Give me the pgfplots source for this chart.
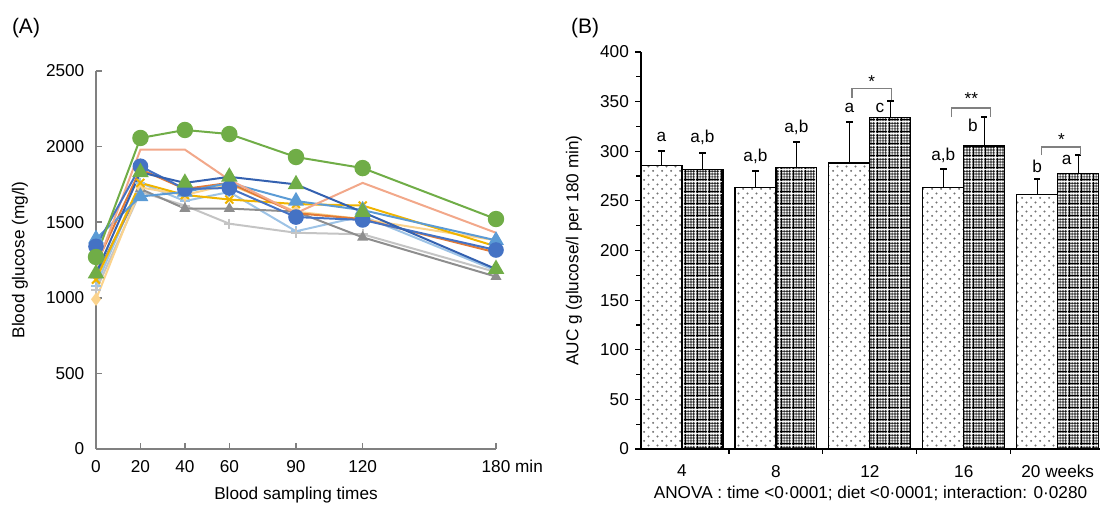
\documentclass[border=0pt]{standalone}
\usepackage{fontspec}
\setmainfont{Liberation Sans}
\usepackage{pgfplots}
\usepackage{pgfplotstable}
\pgfplotsset{compat=1.18}
\usetikzlibrary{patterns}

\definecolor{cgreen}{HTML}{70AD47}
\definecolor{csalmon}{HTML}{F2A88A}
\definecolor{cblue}{HTML}{4472C4}
\definecolor{cdblue}{HTML}{3461B0}
\definecolor{clblue}{HTML}{5B9BD5}
\definecolor{corange}{HTML}{E37B36}
\definecolor{cgold}{HTML}{F0B400}
\definecolor{cpeach}{HTML}{FBD38C}
\definecolor{cgray}{HTML}{8E8E8E}
\definecolor{clgray}{HTML}{C4C4C4}
\definecolor{cpblue}{HTML}{9DC3E6}

% stippled fill of the first diet
\pgfdeclarepatternformonly{stipple}{\pgfpointorigin}{\pgfpoint{4.4pt}{4.4pt}}{\pgfpoint{4.4pt}{4.4pt}}{%
  \pgfpathcircle{\pgfpoint{1.1pt}{1.1pt}}{0.55pt}%
  \pgfpathcircle{\pgfpoint{3.3pt}{3.3pt}}{0.55pt}%
  \pgfusepath{fill}}
% dense grid of the second diet
\pgfdeclarepatternformonly{densegrid}{\pgfpointorigin}{\pgfpoint{6pt}{6pt}}{\pgfpoint{6pt}{6pt}}{%
  \pgfsetlinewidth{0.7pt}%
  \pgfpathmoveto{\pgfpoint{0.75pt}{0pt}}\pgfpathlineto{\pgfpoint{0.75pt}{6pt}}%
  \pgfpathmoveto{\pgfpoint{0pt}{0.75pt}}\pgfpathlineto{\pgfpoint{6pt}{0.75pt}}%
  \pgfusepath{stroke}%
  \pgfsetlinewidth{0.35pt}%
  \pgfpathmoveto{\pgfpoint{2.25pt}{0pt}}\pgfpathlineto{\pgfpoint{2.25pt}{6pt}}%
  \pgfpathmoveto{\pgfpoint{3.75pt}{0pt}}\pgfpathlineto{\pgfpoint{3.75pt}{6pt}}%
  \pgfpathmoveto{\pgfpoint{5.25pt}{0pt}}\pgfpathlineto{\pgfpoint{5.25pt}{6pt}}%
  \pgfpathmoveto{\pgfpoint{0pt}{2.25pt}}\pgfpathlineto{\pgfpoint{6pt}{2.25pt}}%
  \pgfpathmoveto{\pgfpoint{0pt}{3.75pt}}\pgfpathlineto{\pgfpoint{6pt}{3.75pt}}%
  \pgfpathmoveto{\pgfpoint{0pt}{5.25pt}}\pgfpathlineto{\pgfpoint{6pt}{5.25pt}}%
  \pgfusepath{stroke}}

% AUC per diet: week index, mean, upper error
\pgfplotstableread{
x   y     e
0   285.4 15.1
1   263.3 16.5
2   288.2 41.6
3   263.7 18.1
4   256.6 15.1
}\dietA
\pgfplotstableread{
x   y     e
0   281.8 16.7
1   283.4 25.9
2   334.2 16.1
3   305.3 28.9
4   277.4 18.8
}\dietB
\pgfplotstableread{
x      y     label
-0.218 314   a
0.218  314   a,b
0.782  294.5 a,b
1.218  323.7 a,b
1.782  343.3 a
2.106  343.3 c
2.782  296   a,b
3.096  326   b
3.782  284.5 b
4.096  291   a
2.02   370   *
3.08   353   **
4.04   312   *
}\letters

\begin{document}
\fontsize{8.6}{10}\selectfont
\begin{tikzpicture}
\useasboundingbox (0,0) rectangle (552pt,252pt);
\node[font=\fontsize{10.5}{12}\selectfont] at (13pt,238pt) {(A)};
\node[font=\fontsize{10.5}{12}\selectfont] at (292.5pt,238pt) {(B)};

\begin{axis}[
  at={(48pt,27.5pt)}, anchor=south west,
  scale only axis, width=200pt, height=189pt,
  xmin=0, xmax=180, ymin=0, ymax=2500,
  axis x line*=bottom, axis y line*=left,
  axis line style={draw=gray, line width=0.75pt},
  tick align=inside, major tick length=3pt,
  tick style={gray, line width=0.75pt},
  xtick={0,20,40,60,90,120,180},
  xticklabels={0,20,40,60,90,120,180\rlap{ min}},
  ytick={0,500,...,2500},
  /pgf/number format/assume math mode=true,
  /pgf/number format/1000 sep={},
  xticklabel style={yshift=-2.5pt},
  yticklabel style={xshift=-2.8pt},
  xlabel={Blood sampling times},
  ylabel={Blood glucose (mg/l)},
  xlabel style={at={(axis description cs:0.5,-0.122)}, anchor=center},
  ylabel style={at={(axis description cs:-0.19,0.5)}, anchor=center},
  clip=false,
  every axis plot/.append style={line width=1pt},
]
\addplot[cpblue, mark=+, mark size=2.5pt] coordinates {(0,1080) (20,1760) (40,1640) (60,1700) (90,1440) (120,1540) (180,1180)};
\addplot[clgray, mark=+, mark size=2.5pt] coordinates {(0,1050) (20,1700) (40,1610) (60,1490) (90,1430) (120,1420) (180,1170)};
\addplot[cgray, mark=triangle*, mark size=2.2pt] coordinates {(0,1150) (20,1720) (40,1590) (60,1590) (90,1570) (120,1400) (180,1140)};
\addplot[cpeach, mark=diamond*, mark size=2.5pt] coordinates {(0,990) (20,1730) (40,1680) (60,1750) (90,1570) (120,1520) (180,1380)};
\addplot[cgold, mark=x, mark size=2.8pt] coordinates {(0,1120) (20,1760) (40,1680) (60,1650) (90,1620) (120,1610) (180,1340)};
\addplot[corange] coordinates {(0,1220) (20,1850) (40,1720) (60,1760) (90,1560) (120,1520) (180,1300)};
\addplot[clblue, mark=triangle*, mark size=3.6pt] coordinates {(0,1390) (20,1670) (40,1700) (60,1760) (90,1640) (120,1580) (180,1380)};
\addplot[csalmon] coordinates {(0,1200) (20,1980) (40,1980) (60,1780) (90,1560) (120,1760) (180,1430)};
\addplot[cblue, mark=*, mark size=3.4pt] coordinates {(0,1340) (20,1870) (40,1720) (60,1726) (90,1534) (120,1515) (180,1316)};
\addplot[cdblue, mark=triangle*, mark size=3.8pt, mark options={fill=cgreen, draw=cgreen}] coordinates {(0,1160) (20,1830) (40,1760) (60,1800) (90,1750) (120,1567) (180,1190)};
\addplot[cgreen, mark=*, mark size=3.6pt] coordinates {(0,1270) (20,2057) (40,2110) (60,2083) (90,1931) (120,1858) (180,1521)};
\end{axis}

\begin{axis}[
  at={(320.5pt,27.5pt)}, anchor=south west,
  scale only axis, width=229.5pt, height=198.5pt,
  xmin=-0.436, xmax=4.45, ymin=0, ymax=400,
  axis x line*=bottom, axis y line*=left,
  axis line style={line width=0.6pt},
  tick align=outside, major tick length=3pt, minor tick length=2.5pt,
  tick style={black, line width=0.6pt},
  xtick={0,...,4}, xticklabels={4,8,12,16,20 weeks},
  minor xtick={0.5,1.5,2.5,3.5},
  xtick style={draw=none}, minor x tick style={draw=black, line width=0.6pt},
  ytick={0,50,...,400}, minor y tick num=1,
  /pgf/number format/assume math mode=true,
  xticklabel style={yshift=-2pt},
  xlabel={ANOVA : time <0·0001; diet <0·0001; interaction: 0·0280},
  ylabel={AUC g (glucose/l per 180 min)},
  xlabel style={at={(axis description cs:0.5,-0.113)}, anchor=center},
  ylabel style={at={(axis description cs:-0.146,0.5)}, anchor=center},
  clip=false,
]
\addplot[ybar, bar width=0.436, bar shift=0, draw=black, line width=0.6pt,
  pattern=stipple, pattern color=black!55,
  error bars/.cd, y dir=plus, y explicit,
  error bar style={line width=0.6pt, black},
  error mark=|,
  error mark options={line width=0.9pt, mark size=1.6pt, black}]
  table[x expr=\thisrow{x}-0.218, y=y, y error=e] {\dietA};
\addplot[ybar, bar width=0.436, bar shift=0, draw=black, line width=0.6pt,
  pattern=densegrid, pattern color=black,
  error bars/.cd, y dir=plus, y explicit,
  error bar style={line width=0.6pt, black},
  error mark=|,
  error mark options={line width=0.9pt, mark size=1.6pt, black}]
  table[x expr=\thisrow{x}+0.218, y=y, y error=e] {\dietB};
\addplot[gray, line width=0.6pt, mark=none] coordinates {(1.81,354) (1.81,363) (2.23,363) (2.23,352)};
\addplot[gray, line width=0.6pt, mark=none] coordinates {(2.872,334.5) (2.872,343.6) (3.287,343.6) (3.287,334.5)};
\addplot[gray, line width=0.6pt, mark=none] coordinates {(3.83,296.2) (3.83,304.3) (4.245,304.3) (4.245,296.2)};
\addplot[only marks, mark=none, nodes near coords, point meta=explicit symbolic,
  every node near coord/.append style={anchor=center, inner sep=0pt}]
  table[x=x, y=y, meta=label] {\letters};
\end{axis}
\end{tikzpicture}
\end{document}
